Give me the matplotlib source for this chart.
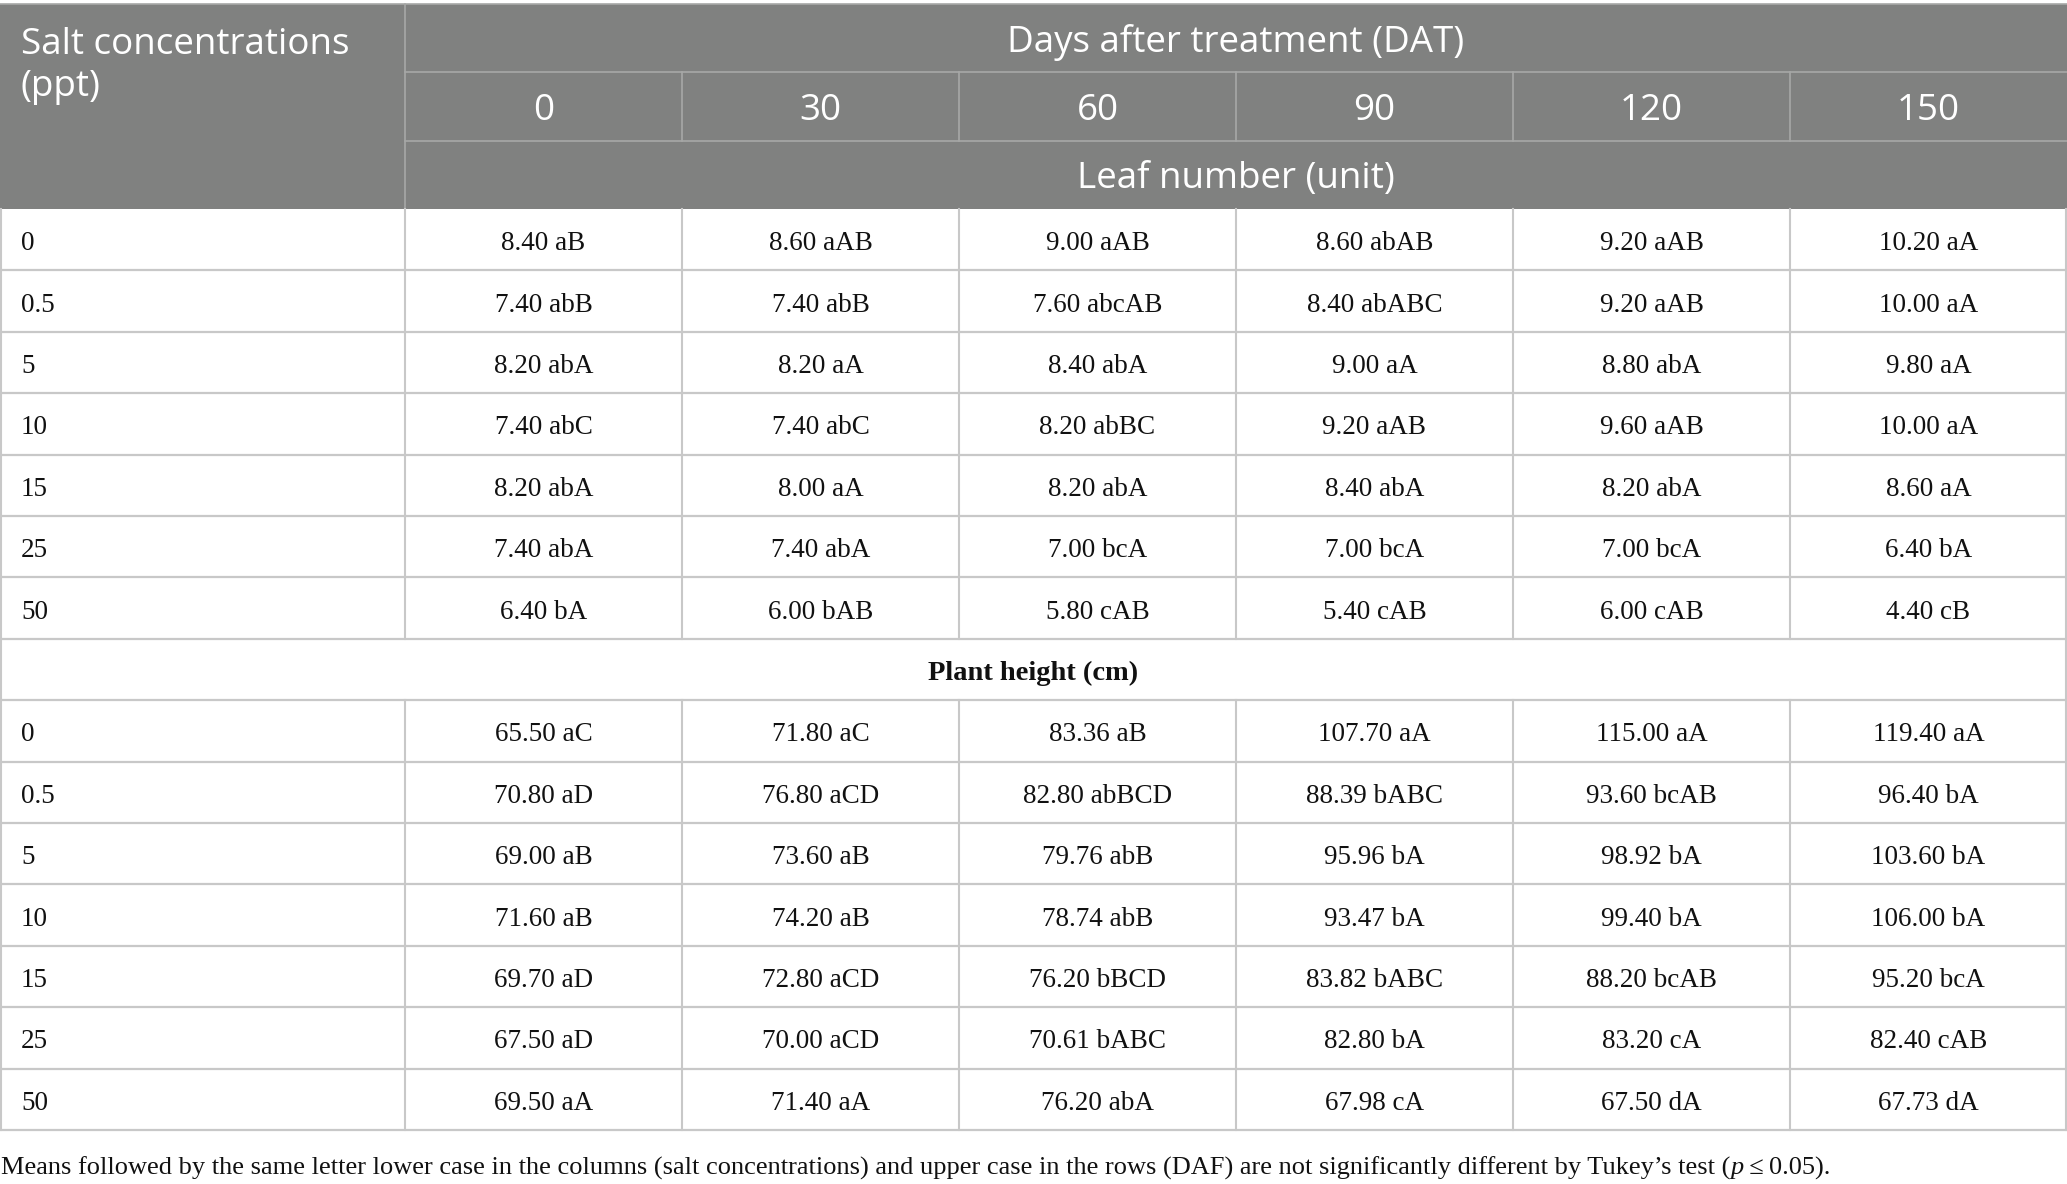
import matplotlib
matplotlib.use("Agg")
import matplotlib.pyplot as plt
from matplotlib.patches import Rectangle

# ---------------- data ----------------
days = ["0", "30", "60", "90", "120", "150"]
salt_levels = ["0", "0.5", "5", "10", "15", "25", "50"]

leaf_number = [
    ["8.40 aB", "8.60 aAB", "9.00 aAB", "8.60 abAB", "9.20 aAB", "10.20 aA"],
    ["7.40 abB", "7.40 abB", "7.60 abcAB", "8.40 abABC", "9.20 aAB", "10.00 aA"],
    ["8.20 abA", "8.20 aA", "8.40 abA", "9.00 aA", "8.80 abA", "9.80 aA"],
    ["7.40 abC", "7.40 abC", "8.20 abBC", "9.20 aAB", "9.60 aAB", "10.00 aA"],
    ["8.20 abA", "8.00 aA", "8.20 abA", "8.40 abA", "8.20 abA", "8.60 aA"],
    ["7.40 abA", "7.40 abA", "7.00 bcA", "7.00 bcA", "7.00 bcA", "6.40 bA"],
    ["6.40 bA", "6.00 bAB", "5.80 cAB", "5.40 cAB", "6.00 cAB", "4.40 cB"],
]

plant_height = [
    ["65.50 aC", "71.80 aC", "83.36 aB", "107.70 aA", "115.00 aA", "119.40 aA"],
    ["70.80 aD", "76.80 aCD", "82.80 abBCD", "88.39 bABC", "93.60 bcAB", "96.40 bA"],
    ["69.00 aB", "73.60 aB", "79.76 abB", "95.96 bA", "98.92 bA", "103.60 bA"],
    ["71.60 aB", "74.20 aB", "78.74 abB", "93.47 bA", "99.40 bA", "106.00 bA"],
    ["69.70 aD", "72.80 aCD", "76.20 bBCD", "83.82 bABC", "88.20 bcAB", "95.20 bcA"],
    ["67.50 aD", "70.00 aCD", "70.61 bABC", "82.80 bA", "83.20 cA", "82.40 cAB"],
    ["69.50 aA", "71.40 aA", "76.20 abA", "67.98 cA", "67.50 dA", "67.73 dA"],
]

header_first = "Salt concentrations\n(ppt)"
header_group = "Days after treatment (DAT)"
header_leaf = "Leaf number (unit)"
section_plant = "Plant height (cm)"
footnote_pre = "Means followed by the same letter lower case in the columns (salt concentrations) and upper case in the rows (DAF) are not significantly different by Tukey\u2019s test ("
footnote_p = "p"
footnote_post = "\u2009\u2264\u20090.05)."

# ---------------- layout (pixels) ----------------
W, H = 2067, 1184
DPI = 100
fig = plt.figure(figsize=(W / DPI, H / DPI), dpi=DPI)
ax = fig.add_axes([0, 0, 1, 1])
ax.set_xlim(0, W)
ax.set_ylim(H, 0)
ax.axis("off")

HEAD_BG = "#808180"
HEAD_LINE = "#a7a8a7"
GRID = "#c8c8c8"
SANS = "Open Sans"
SERIF = "Liberation Serif"

x_edges = [0, 405, 682, 959, 1236, 1513, 1790, 2067]
top = 4
head_h = (209 - top) / 3.0
h_edges = [top, top + head_h, top + 2 * head_h, 209]
data_top = 209
row_h = (1130 - data_top) / 15.0

# header background
ax.add_patch(Rectangle((0, top), W, 209 - top, facecolor=HEAD_BG, edgecolor="none"))
ax.plot([0, W], [top, top], color=HEAD_LINE, lw=1.2, solid_capstyle="butt")
ax.plot([x_edges[1], x_edges[1]], [top, 209], color=HEAD_LINE, lw=1.2)
ax.plot([x_edges[1], W], [h_edges[1], h_edges[1]], color=HEAD_LINE, lw=1.2)
ax.plot([x_edges[1], W], [h_edges[2], h_edges[2]], color=HEAD_LINE, lw=1.2)
for xe in x_edges[2:-1]:
    ax.plot([xe, xe], [h_edges[1], h_edges[2]], color=HEAD_LINE, lw=1.2)

hfs = 26.5
ax.text(21, 66, header_first, color="white", fontsize=hfs, family=SANS,
        ha="left", va="center", linespacing=1.21)
mid_days = (x_edges[1] + W) / 2
hy_off = 4
ax.text(mid_days, (h_edges[0] + h_edges[1]) / 2 + hy_off, header_group, color="white",
        fontsize=hfs, family=SANS, ha="center", va="center")
for j, d in enumerate(days):
    cx = (x_edges[j + 1] + x_edges[j + 2]) / 2
    ax.text(cx, (h_edges[1] + h_edges[2]) / 2 + hy_off, d, color="white", fontsize=hfs,
            family=SANS, ha="center", va="center")
ax.text(mid_days, (h_edges[2] + h_edges[3]) / 2 + hy_off, header_leaf, color="white",
        fontsize=hfs, family=SANS, ha="center", va="center")

# body rows
rows = []
for lab, vals in zip(salt_levels, leaf_number):
    rows.append((lab, vals))
rows.append((None, section_plant))
for lab, vals in zip(salt_levels, plant_height):
    rows.append((lab, vals))

dfs = 19.5
for i, (lab, vals) in enumerate(rows):
    y0 = data_top + i * row_h
    yc = y0 + row_h / 2 + 4
    if lab is None:
        ax.text(W / 2, yc, vals, fontsize=20.5, family=SERIF, weight="bold",
                ha="center", va="center", color="#111111")
        ax.plot([1, 1], [y0, y0 + row_h], color=GRID, lw=1.5)
        ax.plot([W - 1, W - 1], [y0, y0 + row_h], color=GRID, lw=1.5)
    else:
        ax.text(21, yc, lab, fontsize=dfs, family=SERIF, ha="left", va="center",
                color="#111111")
        for j, v in enumerate(vals):
            cx = (x_edges[j + 1] + x_edges[j + 2]) / 2
            ax.text(cx, yc, v, fontsize=dfs, family=SERIF, ha="center",
                    va="center", color="#111111")
        for xe in x_edges:
            xx = min(max(xe, 1), W - 1)
            ax.plot([xx, xx], [y0, y0 + row_h], color=GRID, lw=1.5)
    ax.plot([0, W], [y0 + row_h, y0 + row_h], color=GRID, lw=1.6,
            solid_capstyle="butt")

# footnote
ffs = 19
fig.canvas.draw()
r = fig.canvas.get_renderer()
t1 = ax.text(1, 1168, footnote_pre, fontsize=ffs, family=SERIF, ha="left",
             va="center", color="#111111")
bb = t1.get_window_extent(renderer=r)
x_next = ax.transData.inverted().transform((bb.x1, bb.y0))[0]
t2 = ax.text(x_next, 1168, footnote_p, fontsize=ffs, family=SERIF, style="italic",
             ha="left", va="center", color="#111111")
bb2 = t2.get_window_extent(renderer=r)
x_next2 = ax.transData.inverted().transform((bb2.x1, bb2.y0))[0]
ax.text(x_next2, 1168, footnote_post, fontsize=ffs, family=[SERIF, "DejaVu Serif"],
        ha="left", va="center", color="#111111")

fig.savefig("out.png", dpi=DPI, facecolor="white")
